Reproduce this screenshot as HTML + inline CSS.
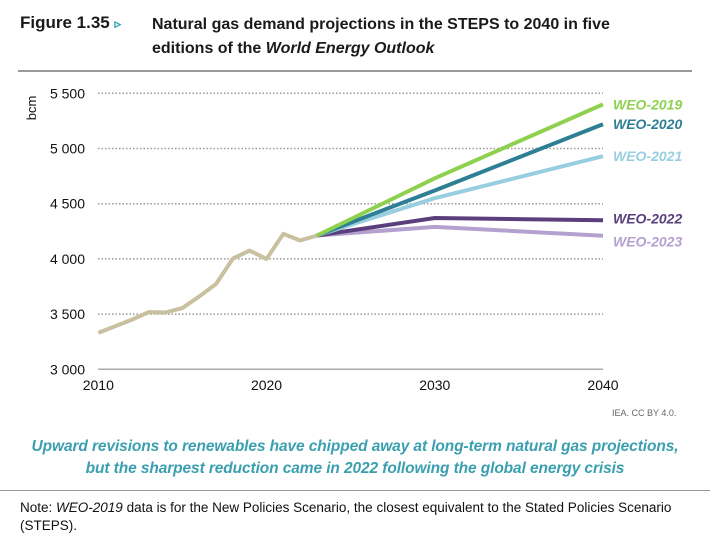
<!DOCTYPE html>
<html><head><meta charset="utf-8"><style>
body{margin:0;width:710px;height:544px;background:#fff;font-family:"Liberation Sans",sans-serif;position:relative;overflow:hidden}
.t{position:absolute;font-weight:bold;font-size:16px;color:#1a1a1a}
</style></head><body>
<div class="t" style="left:20px;top:13px;font-size:17px">Figure 1.35 <span style="color:#2aa0b5;font-size:13px">▹</span></div>
<div class="t" style="left:152px;top:13px;line-height:24px;font-size:16px">Natural gas demand projections in the STEPS to 2040 in five<br>editions of the <i>World Energy Outlook</i></div>
<div style="position:absolute;left:18px;top:70px;width:674px;height:2px;background:#999"></div>
<svg id="c" width="710" height="544" style="position:absolute;left:0;top:0"></svg>
<div style="position:absolute;left:612px;top:408px;font-size:9px;color:#666">IEA. CC BY 4.0.</div>
<div style="position:absolute;left:0;width:710px;top:436px;text-align:center;font-size:15.5px;font-style:italic;font-weight:bold;color:#3a9fb0;line-height:22px;letter-spacing:-0.1px">Upward revisions to renewables have chipped away at long-term natural gas projections,<br>but the sharpest reduction came in 2022 following the global energy crisis</div>
<div style="position:absolute;left:0;top:490px;width:710px;height:1px;background:#999"></div>
<div style="position:absolute;left:20px;top:499px;font-size:13.5px;color:#111;line-height:18px">Note: <i>WEO-2019</i> data is for the New Policies Scenario, the closest equivalent to the Stated Policies Scenario<br>(STEPS).</div>
<script>
const histYears=[2010,2011,2012,2013,2014,2015,2016,2017,2018,2019,2020,2021,2022,2023];
const histValues=[3330,3390,3450,3518,3515,3555,3660,3773,4003,4075,4000,4227,4167,4212];
const projYears=[2023,2030,2040];
const seriesNames=["WEO-2019","WEO-2020","WEO-2021","WEO-2022","WEO-2023"];
const seriesValues=[[4212,4730,5400],[4212,4620,5220],[4212,4550,4930],[4212,4370,4350],[4212,4290,4210]];
const seriesColors=["#8fd14f","#2e7f94","#98cfe0","#5b3f7d","#b4a1cf"];
const yTicks=[3000,3500,4000,4500,5000,5500];
const xTicks=[2010,2020,2030,2040];
const svg=document.getElementById('c');const NS='http://www.w3.org/2000/svg';
const x=v=>98.3+(v-2010)*(603-98.3)/30;
const y=v=>369.3-(v-3000)*0.1104;
function mk(t,a){const e=document.createElementNS(NS,t);for(const k in a)e.setAttribute(k,a[k]);svg.appendChild(e);return e;}
yTicks.forEach(v=>{
 if(v>3000){const l=mk('line',{x1:98,x2:603,y1:y(v),y2:y(v),stroke:'#999','stroke-width':1.5,'stroke-dasharray':'1.5,2'});
 
 }
 const t=mk('text',{x:85,y:y(v)+5,'text-anchor':'end','font-size':14,fill:'#111','font-family':'Liberation Sans'});t.textContent=v.toString().replace(/(\d)(\d{3})$/,'$1 $2');
 
 
});
const ax=mk('line',{x1:98,x2:603,y1:y(3000),y2:y(3000),stroke:'#aaa','stroke-width':1.5});


xTicks.forEach(v=>{const t=mk('text',{x:x(v),y:390,'text-anchor':'middle','font-size':14,fill:'#111','font-family':'Liberation Sans'});t.textContent=v;
 
 });
const yt=mk('text',{transform:'translate(36,108) rotate(-90)','text-anchor':'middle','font-size':13,fill:'#111','font-family':'Liberation Sans'});yt.textContent='bcm';


const h=mk('polyline',{points:histYears.map((d,i)=>x(d)+','+y(histValues[i])).join(' '),fill:'none',stroke:'#c8c09e','stroke-width':4,'stroke-linejoin':'round'});


for(let s=4;s>=0;s--){
 const p=mk('polyline',{points:projYears.map((d,i)=>x(d)+','+y(seriesValues[s][i])).join(' '),fill:'none',stroke:seriesColors[s],'stroke-width':4});
 
 
 const t=mk('text',{x:613,y:y(seriesValues[s][2])+5+(s==3?-2:s==4?6:0),'font-size':14,'font-weight':'bold','font-style':'italic',fill:seriesColors[s],'font-family':'Liberation Sans'});t.textContent=seriesNames[s];
 
 
}
</script>
</body></html>
